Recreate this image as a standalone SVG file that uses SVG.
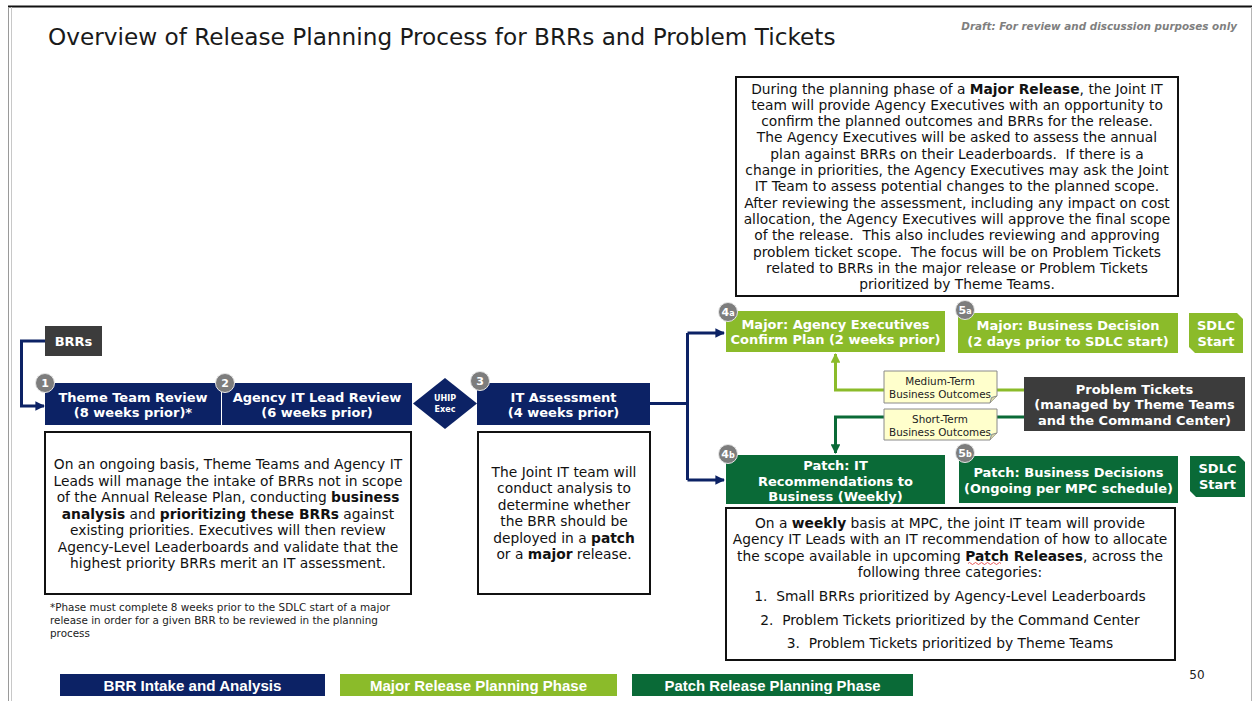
<svg xmlns="http://www.w3.org/2000/svg" width="1257" height="701" viewBox="0 0 1257 701" xml:space="preserve">
  <defs>
    <style>
      .t { font-family: "DejaVu Sans", Verdana, sans-serif; }
      .body { font-family: "DejaVu Sans", Verdana, sans-serif; font-size: 13.8px; fill: #111; text-anchor: middle; white-space: pre; }
      .b { font-weight: bold; }
      .nodeTxt { font-family: "DejaVu Sans", Verdana, sans-serif; font-size: 13px; font-weight: bold; fill: #fff; text-anchor: middle; }
      .navy { fill: #0c2265; }
      .lgreen { fill: #8bbb2a; }
      .dgreen { fill: #0a6a37; }
      .dgrey { fill: #3c3c3c; }
      .box { fill: #fff; stroke: #111; stroke-width: 2; }
      .badge { fill: #7d7d7d; stroke: #e6e6e6; stroke-width: 1; }
      .badgeTxt { font-family: "DejaVu Sans", Verdana, sans-serif; font-size: 11px; font-weight: bold; fill: #fff; text-anchor: middle; }
      .note { fill: #ffffcc; stroke: #8a8a8a; stroke-width: 1; }
      .noteTxt { font-family: "DejaVu Sans", Verdana, sans-serif; font-size: 10.4px; fill: #222; text-anchor: middle; }
      .legendTxt { font-family: "Liberation Sans Narrow", "Liberation Sans", Arial, sans-serif; font-stretch: condensed; font-size: 15px; font-weight: bold; fill: #fff; text-anchor: middle; }
    </style>
    <marker id="arrNavy" viewBox="0 0 10 10" refX="9" refY="5" markerWidth="3.2" markerHeight="3.2" orient="auto">
      <path d="M0,0 L10,5 L0,10 Z" fill="#0c2265"/>
    </marker>
    <marker id="arrLight" viewBox="0 0 10 10" refX="9" refY="5" markerWidth="3.2" markerHeight="3.2" orient="auto">
      <path d="M0,0 L10,5 L0,10 Z" fill="#8bbb2a"/>
    </marker>
    <marker id="arrDark" viewBox="0 0 10 10" refX="9" refY="5" markerWidth="3.2" markerHeight="3.2" orient="auto">
      <path d="M0,0 L10,5 L0,10 Z" fill="#0a6a37"/>
    </marker>
  </defs>

  <!-- page and slide frame -->
  <rect x="0" y="0" width="1257" height="701" fill="#fff"/>
  <line x1="8" y1="6.5" x2="1252" y2="6.5" stroke="#111" stroke-width="2"/>
  <line x1="8.5" y1="7" x2="8.5" y2="701" stroke="#9a9a9a" stroke-width="1"/>
  <line x1="11.5" y1="7" x2="11.5" y2="701" stroke="#c8c8c8" stroke-width="1"/>
  <line x1="1251.5" y1="7" x2="1251.5" y2="701" stroke="#b5b5b5" stroke-width="1"/>

  <!-- heading -->
  <text class="t" x="48" y="45" font-size="23.2" fill="#1a1a1a">Overview of Release Planning Process for BRRs and Problem Tickets</text>
  <text class="t" x="1237" y="30" font-size="10.4" font-weight="bold" font-style="italic" fill="#7f7f7f" text-anchor="end">Draft: For review and discussion purposes only</text>

  <!-- connectors -->
  <g id="connectors" fill="none" stroke-width="3">
    <path d="M45,341 H21.5 V406 H44" stroke="#0c2265" marker-end="url(#arrNavy)"/>
    <path d="M650,403.5 H687.5" stroke="#0c2265"/>
    <path d="M687.5,333 V480" stroke="#0c2265"/>
    <path d="M687.5,333 H724" stroke="#0c2265" marker-end="url(#arrNavy)"/>
    <path d="M687.5,480 H724" stroke="#0c2265" marker-end="url(#arrNavy)"/>
    <path d="M1025,390 H835.5 V354" stroke="#8bbb2a" marker-end="url(#arrLight)"/>
    <path d="M1025,417 H835.5 V453" stroke="#0a6a37" marker-end="url(#arrDark)"/>
  </g>

  <!-- BRR intake -->
  <g id="brrs">
    <rect class="dgrey" x="45" y="326" width="57" height="30"/>
    <text class="nodeTxt" x="73.5" y="346">BRRs</text>
  </g>

  <g id="step1">
    <rect class="navy" x="45" y="383" width="176" height="42"/>
    <text class="nodeTxt" x="133" y="402">Theme Team Review</text>
    <text class="nodeTxt" x="133" y="416.5">(8 weeks prior)*</text>
    <circle class="badge" cx="45" cy="383" r="9.5"/>
    <text class="badgeTxt" x="45" y="387">1</text>
  </g>

  <g id="step2">
    <rect class="navy" x="222" y="383" width="190" height="42"/>
    <text class="nodeTxt" x="317" y="402">Agency IT Lead Review</text>
    <text class="nodeTxt" x="317" y="416.5">(6 weeks prior)</text>
    <circle class="badge" cx="225" cy="383" r="9.5"/>
    <text class="badgeTxt" x="225" y="387">2</text>
  </g>

  <g id="uhip-exec">
    <polygon class="navy" points="445,378 477,403.5 445,429 413,403.5"/>
    <text class="t" x="445" y="401" font-size="8" font-weight="bold" fill="#fff" text-anchor="middle">UHIP</text>
    <text class="t" x="445" y="412" font-size="8" font-weight="bold" fill="#fff" text-anchor="middle">Exec</text>
  </g>

  <g id="step3">
    <rect class="navy" x="477" y="383" width="173" height="42"/>
    <text class="nodeTxt" x="563.5" y="402">IT Assessment</text>
    <text class="nodeTxt" x="563.5" y="416.5">(4 weeks prior)</text>
    <circle class="badge" cx="480" cy="381" r="9.5"/>
    <text class="badgeTxt" x="480" y="385">3</text>
  </g>

  <g id="intake-notes">
    <rect class="box" x="45" y="432" width="366" height="162"/>
    <text class="body" x="228" y="469">On an ongoing basis, Theme Teams and Agency IT</text>
    <text class="body" x="228" y="485.5">Leads will manage the intake of BRRs not in scope</text>
    <text class="body" x="228" y="502">of the Annual Release Plan, conducting <tspan class="b">business</tspan></text>
    <text class="body" x="228" y="518.5"><tspan class="b">analysis</tspan> and <tspan class="b">prioritizing these BRRs</tspan> against</text>
    <text class="body" x="228" y="535">existing priorities. Executives will then review</text>
    <text class="body" x="228" y="551.5">Agency-Level Leaderboards and validate that the</text>
    <text class="body" x="228" y="568">highest priority BRRs merit an IT assessment.</text>
  </g>

  <g id="assessment-notes">
    <rect class="box" x="478" y="432" width="172" height="162"/>
    <text class="body" x="564" y="476.5">The Joint IT team will</text>
    <text class="body" x="564" y="493">conduct analysis to</text>
    <text class="body" x="564" y="509.5">determine whether</text>
    <text class="body" x="564" y="526">the BRR should be</text>
    <text class="body" x="564" y="542.5">deployed in a <tspan class="b">patch</tspan></text>
    <text class="body" x="564" y="559">or a <tspan class="b">major</tspan> release.</text>
  </g>

  <g id="footnote">
    <text class="t" x="50" y="611" font-size="10.4" fill="#222">*Phase must complete 8 weeks prior to the SDLC start of a major</text>
    <text class="t" x="50" y="624" font-size="10.4" fill="#222">release in order for a given BRR to be reviewed in the planning</text>
    <text class="t" x="50" y="637" font-size="10.4" fill="#222">process</text>
  </g>

  <!-- major release planning -->
  <g id="major-notes">
    <rect class="box" x="736" y="77" width="442" height="219"/>
    <text class="body" x="957" y="93.5">During the planning phase of a <tspan class="b">Major Release</tspan>, the Joint IT</text>
    <text class="body" x="957" y="109.8">team will provide Agency Executives with an opportunity to</text>
    <text class="body" x="957" y="126.1">confirm the planned outcomes and BRRs for the release.</text>
    <text class="body" x="957" y="142.4">The Agency Executives will be asked to assess the annual</text>
    <text class="body" x="957" y="158.7">plan against BRRs on their Leaderboards.  If there is a</text>
    <text class="body" x="957" y="175">change in priorities, the Agency Executives may ask the Joint</text>
    <text class="body" x="957" y="191.3">IT Team to assess potential changes to the planned scope.</text>
    <text class="body" x="957" y="207.6">After reviewing the assessment, including any impact on cost</text>
    <text class="body" x="957" y="223.9">allocation, the Agency Executives will approve the final scope</text>
    <text class="body" x="957" y="240.2">of the release.  This also includes reviewing and approving</text>
    <text class="body" x="957" y="256.5">problem ticket scope.  The focus will be on Problem Tickets</text>
    <text class="body" x="957" y="272.8">related to BRRs in the major release or Problem Tickets</text>
    <text class="body" x="957" y="289.1">prioritized by Theme Teams.</text>
  </g>

  <g id="step4a">
    <rect class="lgreen" x="726" y="311" width="219" height="41"/>
    <text class="nodeTxt" x="835.5" y="328.5">Major: Agency Executives</text>
    <text class="nodeTxt" x="835.5" y="344">Confirm Plan (2 weeks prior)</text>
    <circle class="badge" cx="728" cy="312" r="9.5"/>
    <text class="badgeTxt" x="728" y="316">4<tspan font-size="8">a</tspan></text>
  </g>

  <g id="step5a">
    <rect class="lgreen" x="958" y="313" width="220" height="40"/>
    <text class="nodeTxt" x="1068" y="330">Major: Business Decision</text>
    <text class="nodeTxt" x="1068" y="345.5">(2 days prior to SDLC start)</text>
    <circle class="badge" cx="965" cy="310" r="9.5"/>
    <text class="badgeTxt" x="965" y="314">5<tspan font-size="8">a</tspan></text>
  </g>

  <g id="sdlc-major">
    <polygon class="lgreen" points="1189,313 1237,313 1243,319 1243,353 1195,353 1189,347"/>
    <text class="nodeTxt" x="1216" y="330">SDLC</text>
    <text class="nodeTxt" x="1216" y="345.5">Start</text>
  </g>

  <!-- problem tickets and outcome callouts -->
  <g id="problem-tickets">
    <rect class="dgrey" x="1024" y="377" width="221" height="54"/>
    <text class="nodeTxt" x="1134.5" y="393.5">Problem Tickets</text>
    <text class="nodeTxt" x="1134.5" y="409">(managed by Theme Teams</text>
    <text class="nodeTxt" x="1134.5" y="424.5">and the Command Center)</text>
  </g>

  <g id="medium-term">
    <path class="note" d="M884,371 H997 V396 L990,403 H884 Z"/>
    <path d="M990,403 L991.5,397.5 L997,396" fill="#d8d8a8" stroke="#8a8a8a" stroke-width="1"/>
    <text class="noteTxt" x="940" y="384.5">Medium-Term</text>
    <text class="noteTxt" x="940" y="398">Business Outcomes</text>
  </g>

  <g id="short-term">
    <path class="note" d="M884,409 H997 V433 L990,440 H884 Z"/>
    <path d="M990,440 L991.5,434.5 L997,433" fill="#d8d8a8" stroke="#8a8a8a" stroke-width="1"/>
    <text class="noteTxt" x="940" y="422.5">Short-Term</text>
    <text class="noteTxt" x="940" y="436">Business Outcomes</text>
  </g>

  <!-- patch release planning -->
  <g id="step4b">
    <rect class="dgreen" x="726" y="455" width="219" height="49"/>
    <text class="nodeTxt" x="835.5" y="470">Patch: IT</text>
    <text class="nodeTxt" x="835.5" y="485.5">Recommendations to</text>
    <text class="nodeTxt" x="835.5" y="501">Business (Weekly)</text>
    <circle class="badge" cx="728" cy="454" r="9.5"/>
    <text class="badgeTxt" x="728" y="458">4<tspan font-size="8">b</tspan></text>
  </g>

  <g id="step5b">
    <rect class="dgreen" x="959" y="456" width="219" height="47"/>
    <text class="nodeTxt" x="1068.5" y="477">Patch: Business Decisions</text>
    <text class="nodeTxt" x="1068.5" y="492.5">(Ongoing per MPC schedule)</text>
    <circle class="badge" cx="965" cy="453" r="9.5"/>
    <text class="badgeTxt" x="965" y="457">5<tspan font-size="8">b</tspan></text>
  </g>

  <g id="sdlc-patch">
    <polygon class="dgreen" points="1190,456 1239,456 1245,462 1245,497 1196,497 1190,491"/>
    <text class="nodeTxt" x="1217.5" y="473">SDLC</text>
    <text class="nodeTxt" x="1217.5" y="488.5">Start</text>
  </g>

  <g id="patch-notes">
    <rect class="box" x="726" y="508" width="449" height="152"/>
    <text class="body" x="950" y="527.5">On a <tspan class="b">weekly</tspan> basis at MPC, the joint IT team will provide</text>
    <text class="body" x="950" y="544">Agency IT Leads with an IT recommendation of how to allocate</text>
    <text class="body" x="950" y="560.5">the scope available in upcoming <tspan class="b">Patch Releases</tspan>, across the</text>
    <text class="body" x="950" y="577">following three categories:</text>
    <text class="body" x="950" y="601">1.  Small BRRs prioritized by Agency-Level Leaderboards</text>
    <text class="body" x="950" y="624.5">2.  Problem Tickets prioritized by the Command Center</text>
    <text class="body" x="950" y="648">3.  Problem Tickets prioritized by Theme Teams</text>
    <path d="M968,563.5 q1.5,-2 3,0 t3,0 t3,0 t3,0 t3,0 t3,0 t3,0 t3,0 t3,0 t3,0 t3,0" fill="none" stroke="#e03030" stroke-width="0.8"/>
  </g>

  <!-- phase legend -->
  <g id="legend">
    <rect class="navy" x="60" y="674" width="265" height="22"/>
    <text class="legendTxt" x="192.5" y="690.5" textLength="178" lengthAdjust="spacingAndGlyphs">BRR Intake and Analysis</text>
    <rect class="lgreen" x="340" y="674" width="277" height="22"/>
    <text class="legendTxt" x="478.5" y="690.5" textLength="217" lengthAdjust="spacingAndGlyphs">Major Release Planning Phase</text>
    <rect class="dgreen" x="632" y="674" width="281" height="22"/>
    <text class="legendTxt" x="772.5" y="690.5" textLength="216" lengthAdjust="spacingAndGlyphs">Patch Release Planning Phase</text>
  </g>

  <text class="t" x="1197" y="679" font-size="12" fill="#222" text-anchor="middle">50</text>
</svg>
